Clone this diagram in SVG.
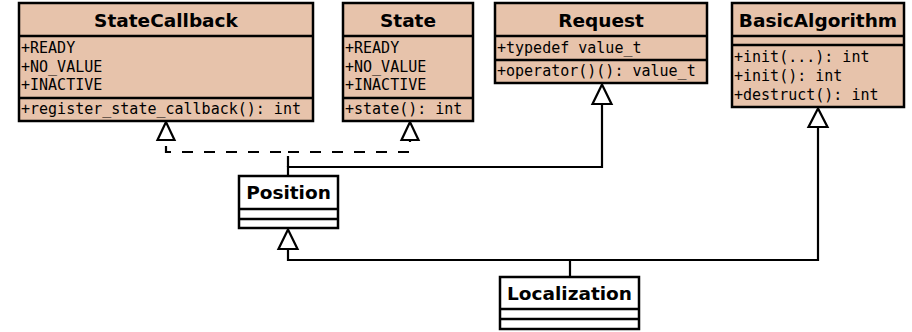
<svg xmlns="http://www.w3.org/2000/svg" width="912" height="332" viewBox="0 0 912 332">
  <style>
    .cls { fill: #e7c3ab; stroke: #000; stroke-width: 2.5; }
    .plain { fill: #fff; stroke: #000; stroke-width: 2.5; }
    .sep { stroke: #000; stroke-width: 2.5; fill: none; }
    .title { font-family: "DejaVu Sans", sans-serif; font-weight: bold; font-size: 18.5px; text-anchor: middle; fill: #000; }
    .member { font-family: "DejaVu Sans Mono", monospace; font-size: 15px; fill: #000; }
    .edge { fill: none; stroke: #000; stroke-width: 2.2; }
    .dash { stroke-dasharray: 11 11; }
    .head { fill: #fff; stroke: #000; stroke-width: 2.2; stroke-linejoin: miter; }
  </style>

  <g id="connectors">
    <!-- Position realizes StateCallback and State -->
    <path class="edge dash" d="M288,167 V152 H166 V140"/>
    <path class="edge dash" d="M288,152 H410 V140"/>
    <polygon class="head" points="166,122 157.5,140 174.5,140"/>
    <polygon class="head" points="410,122 401.5,140 418.5,140"/>
    <!-- Position inherits Request -->
    <path class="edge" d="M288,176 V167 H602 V104"/>
    <polygon class="head" points="602,84.5 592.5,104 611.5,104"/>
    <!-- Localization inherits Position and BasicAlgorithm -->
    <path class="edge" d="M570,277 V260 H288 V249"/>
    <path class="edge" d="M570,260 H818 V127"/>
    <polygon class="head" points="288,229.5 278.5,249 297.5,249"/>
    <polygon class="head" points="818,108.5 808.5,127 827.5,127"/>
  </g>

  <g id="StateCallback">
    <rect class="cls" x="19" y="3" width="294" height="118"/>
    <path class="sep" d="M19,36 H313 M19,98 H313"/>
    <text class="title" x="166" y="26.5">StateCallback</text>
    <text class="member" x="21" y="53">+READY</text>
    <text class="member" x="21" y="71.5">+NO_VALUE</text>
    <text class="member" x="21" y="90">+INACTIVE</text>
    <text class="member" x="21" y="113.5">+register_state_callback(): int</text>
  </g>

  <g id="State">
    <rect class="cls" x="343" y="3" width="130" height="118"/>
    <path class="sep" d="M343,36 H473 M343,98 H473"/>
    <text class="title" x="408" y="26.5">State</text>
    <text class="member" x="345" y="53">+READY</text>
    <text class="member" x="345" y="71.5">+NO_VALUE</text>
    <text class="member" x="345" y="90">+INACTIVE</text>
    <text class="member" x="345" y="113.5">+state(): int</text>
  </g>

  <g id="Request">
    <rect class="cls" x="495" y="3" width="212" height="80"/>
    <path class="sep" d="M495,36 H707 M495,60 H707"/>
    <text class="title" x="601" y="26.5">Request</text>
    <text class="member" x="497" y="53">+typedef value_t</text>
    <text class="member" x="497" y="76">+operator()(): value_t</text>
  </g>

  <g id="BasicAlgorithm">
    <rect class="cls" x="732" y="3" width="172" height="104"/>
    <path class="sep" d="M732,36 H904 M732,45 H904"/>
    <text class="title" x="818" y="26.5">BasicAlgorithm</text>
    <text class="member" x="734" y="62">+init(...): int</text>
    <text class="member" x="734" y="81">+init(): int</text>
    <text class="member" x="734" y="100">+destruct(): int</text>
  </g>

  <g id="Position">
    <rect class="plain" x="239" y="176" width="99" height="52"/>
    <path class="sep" d="M239,209 H338 M239,219 H338"/>
    <text class="title" x="288.5" y="199">Position</text>
  </g>

  <g id="Localization">
    <rect class="plain" x="500" y="277" width="139" height="52"/>
    <path class="sep" d="M500,309 H639 M500,319 H639"/>
    <text class="title" x="569.5" y="299.5">Localization</text>
  </g>
</svg>
